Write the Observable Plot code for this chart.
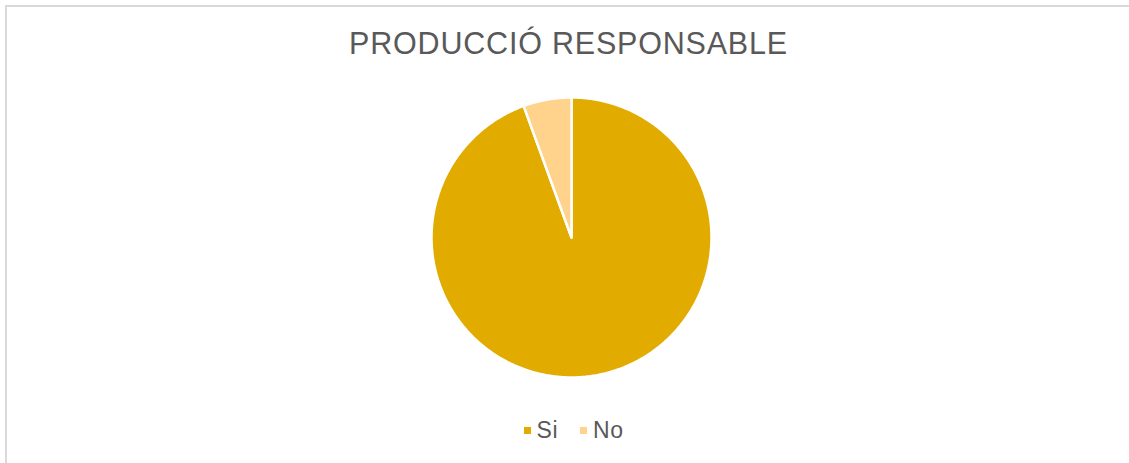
<!DOCTYPE html>
<html>
<head>
<meta charset="utf-8">
<script src="https://cdn.jsdelivr.net/npm/d3@7"></script>
<script src="https://cdn.jsdelivr.net/npm/@observablehq/plot@0.6"></script>
<style>
  html, body { margin: 0; padding: 0; background: #fff; }
  #wrap { position: relative; width: 1129px; height: 463px; overflow: hidden; font-family: "Liberation Sans", Arial, sans-serif; }
  #bt { position: absolute; left: 5px; top: 5px; width: 1124px; height: 2px; background: #d9d9d9; }
  #bl { position: absolute; left: 5px; top: 5px; width: 2px; height: 458px; background: #d9d9d9; }
  #title { position: absolute; left: 0; top: 26px; width: 1137px; text-align: center; font-size: 30.5px; color: #595959; letter-spacing: 0.8px; line-height: 35px; white-space: nowrap; }
  #chart { position: absolute; left: 0; top: 80px; }
  #legend { position: absolute; left: 9px; top: 417px; width: 1129px; display: flex; justify-content: center; font-size: 23px; color: #595959; line-height: 26px; }
  .item { display: flex; align-items: center; margin: 0 11px; letter-spacing: 0.5px; }
  .sw { width: 7px; height: 7px; margin-right: 6px; }
</style>
</head>
<body>
<div id="wrap">
  <div id="bt"></div><div id="bl"></div>
  <div id="title">PRODUCCIÓ RESPONSABLE</div>
  <div id="chart"></div>
  <div id="legend"></div>
</div>
<script>
const labels = ["Si", "No"];
const values = [17, 1];
const colors = ["#E1AB00", "#FFD38C"];
const title = "PRODUCCIÓ RESPONSABLE";

document.getElementById("title").textContent = title;

const data = labels.map((label, i) => ({label, value: values[i]}));
const arcs = d3.pie().sort(null).value(d => d.value)(data);

function slicePolygon(a) {
  const coords = [[0, 0]];
  const n = Math.max(2, Math.ceil((a.endAngle - a.startAngle) / 0.01));
  for (let k = 0; k <= n; k++) {
    const t = a.startAngle + (a.endAngle - a.startAngle) * k / n;
    coords.push([Math.sin(t), -Math.cos(t)]);
  }
  coords.push([0, 0]);
  return {type: "Feature", properties: {label: a.data.label}, geometry: {type: "Polygon", coordinates: [coords]}};
}
const features = arcs.map(slicePolygon);

const chart = Plot.plot({
  width: 1129,
  height: 314,
  marginLeft: 13,
  marginRight: 0,
  marginTop: 0,
  marginBottom: 0,
  projection: {type: "identity", domain: {type: "MultiPoint", coordinates: [[-1, -1], [1, 1]]}, inset: 17},
  color: {domain: labels, range: colors},
  marks: [
    Plot.geo(features, {fill: d => d.properties.label, stroke: "white", strokeWidth: 2.5, strokeLinejoin: "round"})
  ]
});
document.getElementById("chart").appendChild(chart);

const legend = document.getElementById("legend");
labels.forEach((l, i) => {
  const it = document.createElement("div");
  it.className = "item";
  const sw = document.createElement("div");
  sw.className = "sw";
  sw.style.background = colors[i];
  const tx = document.createElement("span");
  tx.textContent = l;
  it.appendChild(sw); it.appendChild(tx);
  legend.appendChild(it);
});
</script>
</body>
</html>
